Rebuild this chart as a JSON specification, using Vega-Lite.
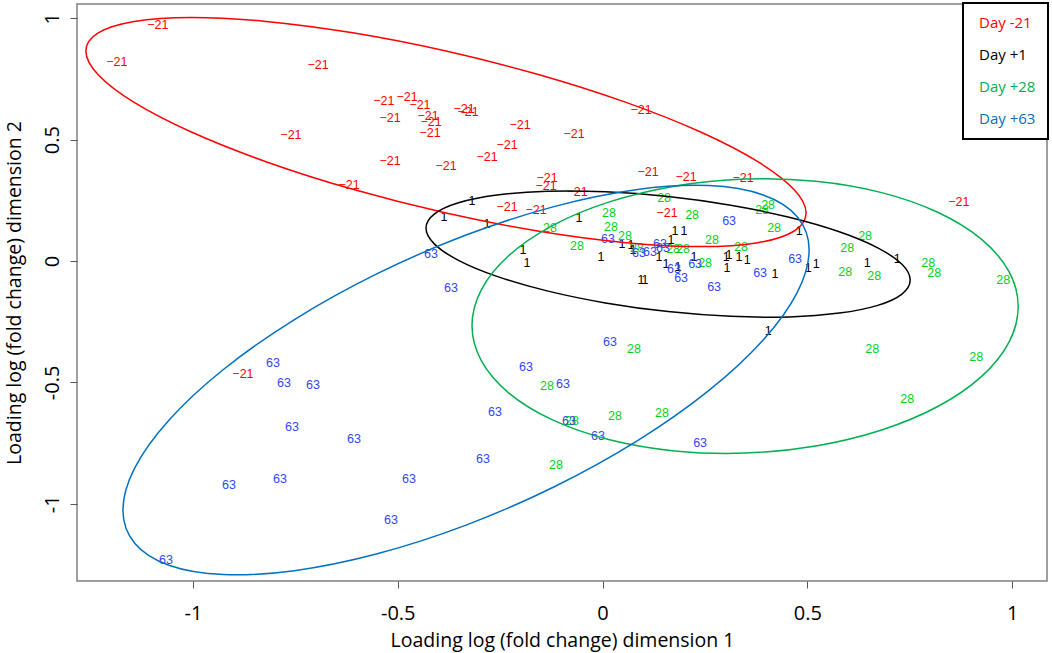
{
  "$schema": "https://vega.github.io/schema/vega-lite/v6.json",
  "width": 970,
  "height": 577,
  "autosize": "none",
  "padding": {"left": 77, "top": 4, "right": 5, "bottom": 72},
  "background": "white",
  "config": {
    "view": {"stroke": "#808080", "strokeWidth": 1.5},
    "axis": {
      "grid": false,
      "domain": false,
      "tickColor": "#555555",
      "tickSize": 7,
      "labelFont": "Open Sans",
      "labelFontSize": 20,
      "labelColor": "black",
      "titleFont": "Open Sans",
      "titleFontSize": 19.5,
      "titleFontWeight": "normal",
      "titleColor": "black"
    }
  },
  "resolve": {"legend": {"fill": "independent", "stroke": "independent"}},
  "datasets": {
    "pts": [
      {"day": "Day -21", "lab": "−21", "x": -1.0855, "y": 0.9724},
      {"day": "Day -21", "lab": "−21", "x": -1.1856, "y": 0.82},
      {"day": "Day -21", "lab": "−21", "x": -0.6947, "y": 0.8076},
      {"day": "Day -21", "lab": "−21", "x": -0.5339, "y": 0.6593},
      {"day": "Day -21", "lab": "−21", "x": -0.4774, "y": 0.6757},
      {"day": "Day -21", "lab": "−21", "x": -0.4457, "y": 0.6428},
      {"day": "Day -21", "lab": "−21", "x": -0.4261, "y": 0.5975},
      {"day": "Day -21", "lab": "−21", "x": -0.4188, "y": 0.5727},
      {"day": "Day -21", "lab": "−21", "x": -0.5189, "y": 0.5892},
      {"day": "Day -21", "lab": "−21", "x": -0.4212, "y": 0.5274},
      {"day": "Day -21", "lab": "−21", "x": -0.3382, "y": 0.6263},
      {"day": "Day -21", "lab": "−21", "x": -0.3285, "y": 0.6139},
      {"day": "Day -21", "lab": "−21", "x": -0.7607, "y": 0.5192},
      {"day": "Day -21", "lab": "−21", "x": -0.5189, "y": 0.412},
      {"day": "Day -21", "lab": "−21", "x": -0.3822, "y": 0.3914},
      {"day": "Day -21", "lab": "−21", "x": -0.619, "y": 0.3131},
      {"day": "Day -21", "lab": "−21", "x": -0.2015, "y": 0.5604},
      {"day": "Day -21", "lab": "−21", "x": -0.2332, "y": 0.478},
      {"day": "Day -21", "lab": "−21", "x": -0.2821, "y": 0.4285},
      {"day": "Day -21", "lab": "−21", "x": -0.0696, "y": 0.5233},
      {"day": "Day -21", "lab": "−21", "x": 0.094, "y": 0.6222},
      {"day": "Day -21", "lab": "−21", "x": -0.1355, "y": 0.342},
      {"day": "Day -21", "lab": "−21", "x": -0.138, "y": 0.309},
      {"day": "Day -21", "lab": "−21", "x": -0.0623, "y": 0.2843},
      {"day": "Day -21", "lab": "−21", "x": 0.1111, "y": 0.3667},
      {"day": "Day -21", "lab": "−21", "x": 0.2039, "y": 0.3461},
      {"day": "Day -21", "lab": "−21", "x": 0.3431, "y": 0.342},
      {"day": "Day -21", "lab": "−21", "x": 0.87, "y": 0.2431},
      {"day": "Day -21", "lab": "−21", "x": -0.2332, "y": 0.2225},
      {"day": "Day -21", "lab": "−21", "x": -0.1624, "y": 0.2101},
      {"day": "Day -21", "lab": "−21", "x": 0.1575, "y": 0.1978},
      {"day": "Day -21", "lab": "−21", "x": -0.8779, "y": -0.4656},
      {"day": "Day +1", "lab": "1", "x": -0.3187, "y": 0.2472},
      {"day": "Day +1", "lab": "1", "x": -0.387, "y": 0.1813},
      {"day": "Day +1", "lab": "1", "x": -0.2821, "y": 0.1525},
      {"day": "Day +1", "lab": "1", "x": -0.0574, "y": 0.1772},
      {"day": "Day +1", "lab": "1", "x": -0.1941, "y": 0.0453},
      {"day": "Day +1", "lab": "1", "x": -0.1844, "y": -0.0082},
      {"day": "Day +1", "lab": "1", "x": -0.0037, "y": 0.0165},
      {"day": "Day +1", "lab": "1", "x": 0.0476, "y": 0.07},
      {"day": "Day +1", "lab": "1", "x": 0.0696, "y": 0.0659},
      {"day": "Day +1", "lab": "1", "x": 0.0745, "y": 0.0453},
      {"day": "Day +1", "lab": "1", "x": 0.177, "y": 0.1236},
      {"day": "Day +1", "lab": "1", "x": 0.199, "y": 0.1236},
      {"day": "Day +1", "lab": "1", "x": 0.1673, "y": 0.0865},
      {"day": "Day +1", "lab": "1", "x": 0.138, "y": 0.0165},
      {"day": "Day +1", "lab": "1", "x": 0.1551, "y": -0.0124},
      {"day": "Day +1", "lab": "1", "x": 0.1844, "y": -0.0247},
      {"day": "Day +1", "lab": "1", "x": 0.094, "y": -0.0783},
      {"day": "Day +1", "lab": "1", "x": 0.1038, "y": -0.0783},
      {"day": "Day +1", "lab": "1", "x": 0.2234, "y": 0.0165},
      {"day": "Day +1", "lab": "1", "x": 0.3016, "y": 0.0165},
      {"day": "Day +1", "lab": "1", "x": 0.3089, "y": 0.0247},
      {"day": "Day +1", "lab": "1", "x": 0.3333, "y": 0.0165},
      {"day": "Day +1", "lab": "1", "x": 0.3529, "y": 0.0041},
      {"day": "Day +1", "lab": "1", "x": 0.304, "y": -0.0288},
      {"day": "Day +1", "lab": "1", "x": 0.4212, "y": -0.0536},
      {"day": "Day +1", "lab": "1", "x": 0.4799, "y": 0.1236},
      {"day": "Day +1", "lab": "1", "x": 0.5018, "y": -0.0288},
      {"day": "Day +1", "lab": "1", "x": 0.5214, "y": -0.0124},
      {"day": "Day +1", "lab": "1", "x": 0.6459, "y": -0.0082},
      {"day": "Day +1", "lab": "1", "x": 0.7192, "y": 0.0082},
      {"day": "Day +1", "lab": "1", "x": 0.4042, "y": -0.2884},
      {"day": "Day +28", "lab": "28", "x": 0.1502, "y": 0.2596},
      {"day": "Day +28", "lab": "28", "x": 0.0159, "y": 0.1978},
      {"day": "Day +28", "lab": "28", "x": 0.0208, "y": 0.1401},
      {"day": "Day +28", "lab": "28", "x": -0.1282, "y": 0.136},
      {"day": "Day +28", "lab": "28", "x": -0.0623, "y": 0.0618},
      {"day": "Day +28", "lab": "28", "x": 0.0549, "y": 0.103},
      {"day": "Day +28", "lab": "28", "x": 0.0842, "y": 0.0536},
      {"day": "Day +28", "lab": "28", "x": 0.2186, "y": 0.1895},
      {"day": "Day +28", "lab": "28", "x": 0.1722, "y": 0.0494},
      {"day": "Day +28", "lab": "28", "x": 0.1966, "y": 0.0494},
      {"day": "Day +28", "lab": "28", "x": 0.2672, "y": 0.0865},
      {"day": "Day +28", "lab": "28", "x": 0.2503, "y": -0.0082},
      {"day": "Day +28", "lab": "28", "x": 0.3382, "y": 0.0577},
      {"day": "Day +28", "lab": "28", "x": 0.4042, "y": 0.2307},
      {"day": "Day +28", "lab": "28", "x": 0.3895, "y": 0.2101},
      {"day": "Day +28", "lab": "28", "x": 0.4188, "y": 0.136},
      {"day": "Day +28", "lab": "28", "x": 0.5971, "y": 0.0536},
      {"day": "Day +28", "lab": "28", "x": 0.5922, "y": -0.0453},
      {"day": "Day +28", "lab": "28", "x": 0.641, "y": 0.103},
      {"day": "Day +28", "lab": "28", "x": 0.663, "y": -0.0618},
      {"day": "Day +28", "lab": "28", "x": 0.7949, "y": -0.0082},
      {"day": "Day +28", "lab": "28", "x": 0.8095, "y": -0.0494},
      {"day": "Day +28", "lab": "28", "x": 0.978, "y": -0.0783},
      {"day": "Day +28", "lab": "28", "x": 0.0769, "y": -0.3626},
      {"day": "Day +28", "lab": "28", "x": -0.1355, "y": -0.515},
      {"day": "Day +28", "lab": "28", "x": -0.0745, "y": -0.6593},
      {"day": "Day +28", "lab": "28", "x": 0.0305, "y": -0.6386},
      {"day": "Day +28", "lab": "28", "x": 0.1453, "y": -0.6263},
      {"day": "Day +28", "lab": "28", "x": -0.1136, "y": -0.8405},
      {"day": "Day +28", "lab": "28", "x": 0.6581, "y": -0.3626},
      {"day": "Day +28", "lab": "28", "x": 0.9121, "y": -0.3956},
      {"day": "Day +28", "lab": "28", "x": 0.7436, "y": -0.5686},
      {"day": "Day +63", "lab": "63", "x": 0.3089, "y": 0.1648},
      {"day": "Day +63", "lab": "63", "x": 0.0134, "y": 0.0906},
      {"day": "Day +63", "lab": "63", "x": -0.4188, "y": 0.0288},
      {"day": "Day +63", "lab": "63", "x": -0.37, "y": -0.1112},
      {"day": "Day +63", "lab": "63", "x": 0.1404, "y": 0.07},
      {"day": "Day +63", "lab": "63", "x": 0.1477, "y": 0.0536},
      {"day": "Day +63", "lab": "63", "x": 0.0891, "y": 0.033},
      {"day": "Day +63", "lab": "63", "x": 0.116, "y": 0.0371},
      {"day": "Day +63", "lab": "63", "x": 0.1746, "y": -0.033},
      {"day": "Day +63", "lab": "63", "x": 0.1917, "y": -0.07},
      {"day": "Day +63", "lab": "63", "x": 0.2259, "y": -0.0124},
      {"day": "Day +63", "lab": "63", "x": 0.2723, "y": -0.1071},
      {"day": "Day +63", "lab": "63", "x": 0.3846, "y": -0.0494},
      {"day": "Day +63", "lab": "63", "x": 0.4701, "y": 0.0082},
      {"day": "Day +63", "lab": "63", "x": -0.8046, "y": -0.4203},
      {"day": "Day +63", "lab": "63", "x": -0.7778, "y": -0.5027},
      {"day": "Day +63", "lab": "63", "x": -0.707, "y": -0.5109},
      {"day": "Day +63", "lab": "63", "x": -0.7582, "y": -0.684},
      {"day": "Day +63", "lab": "63", "x": -0.6068, "y": -0.7334},
      {"day": "Day +63", "lab": "63", "x": -0.9121, "y": -0.9229},
      {"day": "Day +63", "lab": "63", "x": -0.7875, "y": -0.8982},
      {"day": "Day +63", "lab": "63", "x": -0.4725, "y": -0.8982},
      {"day": "Day +63", "lab": "63", "x": -0.5165, "y": -1.0672},
      {"day": "Day +63", "lab": "63", "x": -1.0659, "y": -1.232},
      {"day": "Day +63", "lab": "63", "x": -0.1868, "y": -0.4368},
      {"day": "Day +63", "lab": "63", "x": -0.2625, "y": -0.6222},
      {"day": "Day +63", "lab": "63", "x": -0.2918, "y": -0.8158},
      {"day": "Day +63", "lab": "63", "x": 0.0183, "y": -0.3337},
      {"day": "Day +63", "lab": "63", "x": -0.0965, "y": -0.5068},
      {"day": "Day +63", "lab": "63", "x": -0.0818, "y": -0.6593},
      {"day": "Day +63", "lab": "63", "x": -0.011, "y": -0.7211},
      {"day": "Day +63", "lab": "63", "x": 0.2381, "y": -0.7499}
    ],
    "ell": [
      {"day": "Day -21", "t": 0, "x": 0.4969, "y": 0.1978},
      {"day": "Day -21", "t": 15, "x": 0.4669, "y": 0.1228},
      {"day": "Day -21", "t": 30, "x": 0.3791, "y": 0.0757},
      {"day": "Day -21", "t": 45, "x": 0.2394, "y": 0.0596},
      {"day": "Day -21", "t": 60, "x": 0.0574, "y": 0.0757},
      {"day": "Day -21", "t": 75, "x": -0.1547, "y": 0.1228},
      {"day": "Day -21", "t": 90, "x": -0.3822, "y": 0.1978},
      {"day": "Day -21", "t": 105, "x": -0.6097, "y": 0.2955},
      {"day": "Day -21", "t": 120, "x": -0.8218, "y": 0.4094},
      {"day": "Day -21", "t": 135, "x": -1.0038, "y": 0.5315},
      {"day": "Day -21", "t": 150, "x": -1.1435, "y": 0.6536},
      {"day": "Day -21", "t": 165, "x": -1.2313, "y": 0.7675},
      {"day": "Day -21", "t": 180, "x": -1.2613, "y": 0.8652},
      {"day": "Day -21", "t": 195, "x": -1.2313, "y": 0.9402},
      {"day": "Day -21", "t": 210, "x": -1.1435, "y": 0.9873},
      {"day": "Day -21", "t": 225, "x": -1.0038, "y": 1.0034},
      {"day": "Day -21", "t": 240, "x": -0.8218, "y": 0.9873},
      {"day": "Day -21", "t": 255, "x": -0.6097, "y": 0.9402},
      {"day": "Day -21", "t": 270, "x": -0.3822, "y": 0.8652},
      {"day": "Day -21", "t": 285, "x": -0.1547, "y": 0.7675},
      {"day": "Day -21", "t": 300, "x": 0.0574, "y": 0.6536},
      {"day": "Day -21", "t": 315, "x": 0.2394, "y": 0.5315},
      {"day": "Day -21", "t": 330, "x": 0.3791, "y": 0.4094},
      {"day": "Day -21", "t": 345, "x": 0.4669, "y": 0.2955},
      {"day": "Day +1", "t": 0, "x": 0.751, "y": -0.0783},
      {"day": "Day +1", "t": 15, "x": 0.7309, "y": -0.1359},
      {"day": "Day +1", "t": 30, "x": 0.6718, "y": -0.1825},
      {"day": "Day +1", "t": 45, "x": 0.5779, "y": -0.2144},
      {"day": "Day +1", "t": 60, "x": 0.4555, "y": -0.23},
      {"day": "Day +1", "t": 75, "x": 0.313, "y": -0.2277},
      {"day": "Day +1", "t": 90, "x": 0.16, "y": -0.2081},
      {"day": "Day +1", "t": 105, "x": 0.007, "y": -0.1723},
      {"day": "Day +1", "t": 120, "x": -0.1355, "y": -0.1228},
      {"day": "Day +1", "t": 135, "x": -0.2579, "y": -0.063},
      {"day": "Day +1", "t": 150, "x": -0.3518, "y": 0.0031},
      {"day": "Day +1", "t": 165, "x": -0.4109, "y": 0.0709},
      {"day": "Day +1", "t": 180, "x": -0.431, "y": 0.1359},
      {"day": "Day +1", "t": 195, "x": -0.4109, "y": 0.1935},
      {"day": "Day +1", "t": 210, "x": -0.3518, "y": 0.2401},
      {"day": "Day +1", "t": 225, "x": -0.2579, "y": 0.272},
      {"day": "Day +1", "t": 240, "x": -0.1355, "y": 0.2876},
      {"day": "Day +1", "t": 255, "x": 0.007, "y": 0.2853},
      {"day": "Day +1", "t": 270, "x": 0.16, "y": 0.2657},
      {"day": "Day +1", "t": 285, "x": 0.313, "y": 0.2299},
      {"day": "Day +1", "t": 300, "x": 0.4555, "y": 0.1804},
      {"day": "Day +1", "t": 315, "x": 0.5779, "y": 0.1206},
      {"day": "Day +1", "t": 330, "x": 0.6718, "y": 0.0545},
      {"day": "Day +1", "t": 345, "x": 0.7309, "y": -0.0133},
      {"day": "Day +28", "t": 0, "x": 1.0147, "y": -0.1875},
      {"day": "Day +28", "t": 15, "x": 0.992, "y": -0.3349},
      {"day": "Day +28", "t": 30, "x": 0.9254, "y": -0.475},
      {"day": "Day +28", "t": 45, "x": 0.8194, "y": -0.5982},
      {"day": "Day +28", "t": 60, "x": 0.6814, "y": -0.6959},
      {"day": "Day +28", "t": 75, "x": 0.5205, "y": -0.7618},
      {"day": "Day +28", "t": 90, "x": 0.348, "y": -0.7911},
      {"day": "Day +28", "t": 105, "x": 0.1755, "y": -0.782},
      {"day": "Day +28", "t": 120, "x": 0.0146, "y": -0.7351},
      {"day": "Day +28", "t": 135, "x": -0.1234, "y": -0.6534},
      {"day": "Day +28", "t": 150, "x": -0.2294, "y": -0.5428},
      {"day": "Day +28", "t": 165, "x": -0.296, "y": -0.4105},
      {"day": "Day +28", "t": 180, "x": -0.3187, "y": -0.2657},
      {"day": "Day +28", "t": 195, "x": -0.296, "y": -0.1183},
      {"day": "Day +28", "t": 210, "x": -0.2294, "y": 0.0218},
      {"day": "Day +28", "t": 225, "x": -0.1234, "y": 0.145},
      {"day": "Day +28", "t": 240, "x": 0.0146, "y": 0.2427},
      {"day": "Day +28", "t": 255, "x": 0.1755, "y": 0.3086},
      {"day": "Day +28", "t": 270, "x": 0.348, "y": 0.3379},
      {"day": "Day +28", "t": 285, "x": 0.5205, "y": 0.3288},
      {"day": "Day +28", "t": 300, "x": 0.6814, "y": 0.2819},
      {"day": "Day +28", "t": 315, "x": 0.8194, "y": 0.2002},
      {"day": "Day +28", "t": 330, "x": 0.9254, "y": 0.0896},
      {"day": "Day +28", "t": 345, "x": 0.992, "y": -0.0427},
      {"day": "Day +63", "t": 0, "x": 0.5043, "y": 0.0453},
      {"day": "Day +63", "t": 15, "x": 0.4757, "y": -0.1276},
      {"day": "Day +63", "t": 30, "x": 0.3921, "y": -0.3252},
      {"day": "Day +63", "t": 45, "x": 0.259, "y": -0.534},
      {"day": "Day +63", "t": 60, "x": 0.0855, "y": -0.7398},
      {"day": "Day +63", "t": 75, "x": -0.1165, "y": -0.9287},
      {"day": "Day +63", "t": 90, "x": -0.3333, "y": -1.0877},
      {"day": "Day +63", "t": 105, "x": -0.5501, "y": -1.2059},
      {"day": "Day +63", "t": 120, "x": -0.7521, "y": -1.2754},
      {"day": "Day +63", "t": 135, "x": -0.9256, "y": -1.2914},
      {"day": "Day +63", "t": 150, "x": -1.0587, "y": -1.2528},
      {"day": "Day +63", "t": 165, "x": -1.1423, "y": -1.1622},
      {"day": "Day +63", "t": 180, "x": -1.1709, "y": -1.0259},
      {"day": "Day +63", "t": 195, "x": -1.1423, "y": -0.853},
      {"day": "Day +63", "t": 210, "x": -1.0587, "y": -0.6554},
      {"day": "Day +63", "t": 225, "x": -0.9256, "y": -0.4466},
      {"day": "Day +63", "t": 240, "x": -0.7521, "y": -0.2408},
      {"day": "Day +63", "t": 255, "x": -0.5501, "y": -0.0519},
      {"day": "Day +63", "t": 270, "x": -0.3333, "y": 0.1071},
      {"day": "Day +63", "t": 285, "x": -0.1165, "y": 0.2253},
      {"day": "Day +63", "t": 300, "x": 0.0855, "y": 0.2948},
      {"day": "Day +63", "t": 315, "x": 0.259, "y": 0.3108},
      {"day": "Day +63", "t": 330, "x": 0.3921, "y": 0.2722},
      {"day": "Day +63", "t": 345, "x": 0.4757, "y": 0.1816}
    ]
  },
  "encoding": {
    "x": {
      "field": "x",
      "type": "quantitative",
      "scale": {"domain": [-1.283, 1.085], "nice": false, "zero": false},
      "axis": {
        "title": "Loading log (fold change) dimension 1",
        "values": [-1, -0.5, 0, 0.5, 1],
        "labelExpr": "'' + datum.value",
        "labelPadding": 15,
        "titlePadding": 8
      }
    },
    "y": {
      "field": "y",
      "type": "quantitative",
      "scale": {"domain": [-1.318, 1.059], "nice": false, "zero": false},
      "axis": {
        "title": "Loading log (fold change) dimension 2",
        "values": [-1, -0.5, 0, 0.5, 1],
        "labelExpr": "'' + datum.value",
        "labelAngle": -90,
        "labelAlign": "center",
        "labelBaseline": "bottom",
        "labelPadding": 8,
        "titlePadding": 18
      }
    }
  },
  "layer": [
    {
      "data": {"name": "pts"},
      "mark": {"type": "text", "font": "Liberation Sans", "fontSize": 12.5, "align": "center", "baseline": "middle"},
      "encoding": {
        "text": {"field": "lab"},
        "fill": {
          "field": "day",
          "type": "nominal",
          "scale": {
            "domain": ["Day -21", "Day +1", "Day +28", "Day +63"],
            "range": ["#ff0000", "#000000", "#00d21e", "#3348f7"]
          },
          "legend": null
        }
      }
    },
    {
      "data": {"name": "ell"},
      "mark": {"type": "line", "interpolate": "cardinal-closed", "strokeWidth": 1.5},
      "encoding": {
        "order": {"field": "t", "type": "quantitative"},
        "stroke": {
          "field": "day",
          "type": "nominal",
          "scale": {
            "domain": ["Day -21", "Day +1", "Day +28", "Day +63"],
            "range": ["#ff0000", "#000000", "#00b050", "#0070c0"]
          },
          "legend": {
            "title": null,
            "orient": "top-right",
            "offset": -1,
            "padding": 12,
            "rowPadding": 16,
            "symbolType": "circle",
            "symbolSize": 1,
            "symbolStrokeWidth": 0,
            "symbolOpacity": 0,
            "labelOffset": -11,
            "labelFont": "Open Sans",
            "labelFontSize": 15,
            "strokeColor": "black",
            "fillColor": "white",
            "encode": {
              "legend": {"update": {"strokeWidth": {"value": 2}}},
              "labels": {"update": {"fill": {"scale": "stroke", "field": "value"}}}
            }
          }
        }
      }
    }
  ]
}
